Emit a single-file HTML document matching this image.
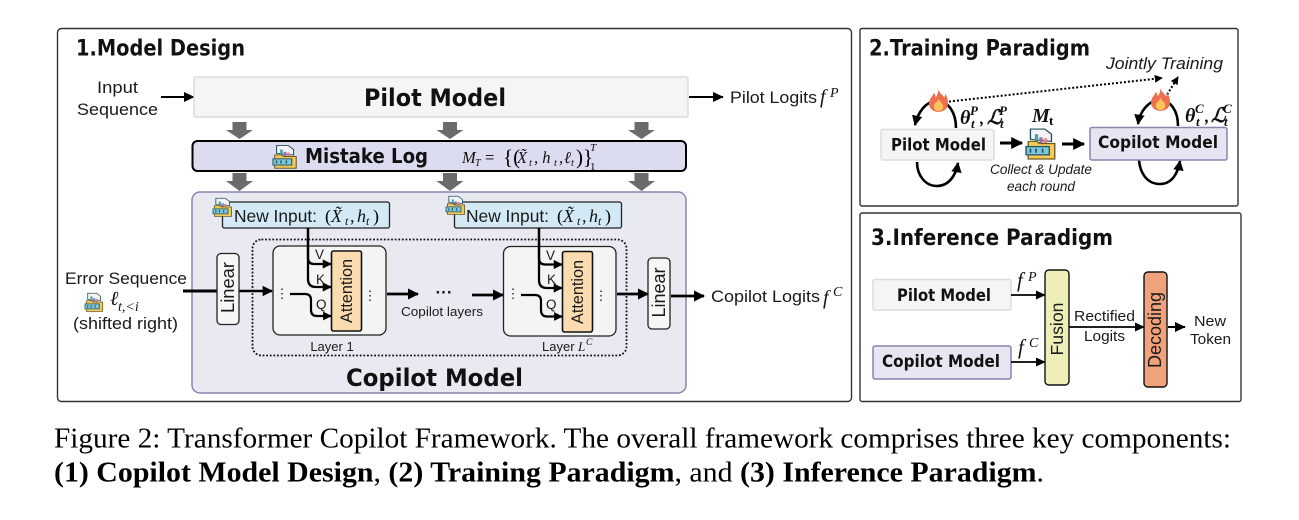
<!DOCTYPE html>
<html><head><meta charset="utf-8"><style>
html,body{margin:0;padding:0;background:#fff;width:1299px;height:520px;overflow:hidden}
svg{display:block}
text{font-family:"Liberation Sans",sans-serif;fill:#1a1a1a}
.h{font-family:"DejaVu Sans",sans-serif;font-weight:bold;fill:#111}
.b{font-family:"DejaVu Sans",sans-serif;font-weight:bold;fill:#111}
.m{font-family:"Liberation Serif",serif;font-style:italic;fill:#111}
.c{font-family:"Liberation Serif",serif;fill:#000}
.l{stroke:#000;fill:none}
</style></head><body>
<svg width="1299" height="520" viewBox="0 0 1299 520" xmlns="http://www.w3.org/2000/svg">
<defs>
<marker id="a" markerWidth="6" markerHeight="6" refX="5" refY="3" orient="auto" markerUnits="strokeWidth"><path d="M0 0.5L5.4 3L0 5.500z" fill="#000"/></marker>
<marker id="t" markerWidth="4" markerHeight="4" refX="3.6" refY="2" orient="auto" markerUnits="strokeWidth"><path d="M0 0L4 2L0 4z" fill="#000"/></marker>
<symbol id="log" viewBox="0 0 28 32" overflow="visible" preserveAspectRatio="none">
<path d="M4 12V2h13l6 5v7z" fill="#f4f4f8" stroke="#27505f" stroke-width="1.200"/>
<rect x="8" y="7" width="3" height="11" fill="#3fa6a0"/><rect x="12" y="10" width="3" height="8" fill="#a06cb0"/><rect x="16" y="11" width="3" height="7" fill="#d88"/>
<path d="M2 14h8l2 2h14v15H2z" fill="#f3c95a" stroke="#6f5a20" stroke-width="1.200"/>
<rect x="0" y="19" width="21" height="8" fill="#7fc6d6" stroke="#1f5566" stroke-width="1.200"/>
<path d="M4 21v4M9 21v4M15 21v4" stroke="#1f5566" stroke-width="1.500"/>
</symbol>
<symbol id="fire" viewBox="0 0 20 24" overflow="visible">
<path d="M10 0C11 5 15 6 16 9C17 7 17 6 17 5C20 9 20 13 20 15C20 21 15 24 10 24C4 24 0 20 0 15C0 10 4 8 5 4C7 6 7 8 7 9C9 6 10 3 10 0z" fill="#ee6f4d"/>
<path d="M10 10C11 13 15 15 15 18C15 21 13 23 10 23C7 23 5 21 5 18C5 15 9 14 10 10z" fill="#fbc35a"/>
</symbol>
</defs>

<!-- Panel 1 -->
<rect x="57.500" y="28.500" width="794" height="373" rx="4" fill="#fff" stroke="#333" stroke-width="1.400"/>
<text class="h" x="76" y="55.500" font-size="22" textLength="169" lengthAdjust="spacingAndGlyphs">1.Model  Design</text>

<text x="97" y="93" font-size="17" textLength="41" lengthAdjust="spacingAndGlyphs">Input</text>
<text x="77" y="115" font-size="17" textLength="81" lengthAdjust="spacingAndGlyphs">Sequence</text>
<line class="l" x1="161" y1="97" x2="194" y2="97" stroke-width="2" marker-end="url(#a)"/>

<rect x="194" y="77" width="494" height="40" rx="2" fill="#f5f5f5" stroke="#dcdcdc" stroke-width="1.500"/>
<text class="b" x="364" y="106" font-size="24" textLength="142" lengthAdjust="spacingAndGlyphs">Pilot Model</text>

<line class="l" x1="689" y1="97" x2="723" y2="97" stroke-width="2" marker-end="url(#a)"/>
<text x="730" y="103" font-size="16.500" textLength="87" lengthAdjust="spacingAndGlyphs">Pilot Logits</text>
<text class="m" x="820" y="103" font-size="20">f</text><text class="m" x="830" y="97" font-size="14">P</text>

<!-- grey arrows -->
<g fill="#6b6b6b">
<path d="M232.500 122h14v8h6.500l-13.500 9l-13.500-9h6.500z"/>
<path d="M443 122h14v8h6.500l-13.500 9l-13.500-9h6.500z"/>
<path d="M634.500 122h14v8h6.500l-13.500 9l-13.500-9h6.500z"/>
<path d="M232.500 173h14v8h6.500l-13.500 10l-13.500-10h6.500z"/>
<path d="M443 173h14v8h6.500l-13.500 10l-13.500-10h6.500z"/>
<path d="M634.500 173h14v8h6.500l-13.500 10l-13.500-10h6.500z"/>
</g>

<rect x="192.500" y="141" width="493.500" height="30" rx="5" fill="#dcdcf1" stroke="#000" stroke-width="2"/>
<use href="#log" x="273" y="144" width="25" height="25"/>
<text class="b" x="305" y="163" font-size="20" textLength="123" lengthAdjust="spacingAndGlyphs">Mistake Log</text>
<text class="m" x="462" y="163" font-size="16.500">M</text><text class="m" x="475" y="166" font-size="10">T</text>
<text class="c" x="485" y="163" font-size="16.500">=</text>
<text class="c" x="503" y="164" font-size="21">{(</text>
<text class="m" x="517" y="163" font-size="16.500">X̃</text><text class="m" x="529" y="166" font-size="10.500">t</text>
<text class="m" x="534" y="163" font-size="16.500">, h</text><text class="m" x="554" y="166" font-size="10.500">t</text>
<text class="m" x="559" y="163" font-size="16.500">,</text><text class="m" x="564" y="163" font-size="16.500">ℓ</text><text class="m" x="571" y="166" font-size="10.500">t</text>
<text class="c" x="576" y="164" font-size="21">)}</text>
<text class="m" x="590" y="151" font-size="11">T</text><text class="c" x="590" y="170" font-size="11">1</text>

<!-- Copilot box -->
<rect x="192" y="192" width="494" height="201" rx="8" fill="#e9e9f2" stroke="#8a84ae" stroke-width="1.500"/>
<rect x="252.500" y="239.500" width="374" height="116" rx="9" fill="none" stroke="#111" stroke-width="1.800" stroke-dasharray="1.800 1.800"/>
<text class="b" x="346" y="386" font-size="24" textLength="177" lengthAdjust="spacingAndGlyphs">Copilot Model</text>

<!-- New input boxes -->
<rect x="222.500" y="202" width="167" height="26" rx="2" fill="#d3e9f5" stroke="#222" stroke-width="1.300"/>
<use href="#log" x="213" y="197" width="20" height="20"/>
<text x="234" y="222" font-size="17.500" textLength="83" lengthAdjust="spacingAndGlyphs">New Input:</text>
<text class="c" x="325" y="222" font-size="18">(</text><text class="m" x="331" y="222" font-size="18">X̃</text><text class="m" x="345" y="225" font-size="12">t</text><text class="m" x="350" y="222" font-size="18">,</text><text class="m" x="357" y="222" font-size="18">h</text><text class="m" x="366" y="225" font-size="12">t</text><text class="c" x="373" y="222" font-size="18">)</text>

<rect x="454.500" y="202" width="167" height="26" rx="2" fill="#d3e9f5" stroke="#222" stroke-width="1.300"/>
<use href="#log" x="446" y="195" width="20" height="20"/>
<text x="466" y="222" font-size="17.500" textLength="83" lengthAdjust="spacingAndGlyphs">New Input:</text>
<text class="c" x="557" y="222" font-size="18">(</text><text class="m" x="563" y="222" font-size="18">X̃</text><text class="m" x="577" y="225" font-size="12">t</text><text class="m" x="582" y="222" font-size="18">,</text><text class="m" x="589" y="222" font-size="18">h</text><text class="m" x="598" y="225" font-size="12">t</text><text class="c" x="605" y="222" font-size="18">)</text>

<!-- Left side -->
<text x="65" y="284" font-size="17" textLength="122" lengthAdjust="spacingAndGlyphs">Error Sequence</text>
<use href="#log" x="85" y="292" width="19" height="20"/>
<text class="m" x="110" y="305" font-size="20">ℓ</text><text class="m" x="118" y="311" font-size="14">t,&lt;i</text>
<text x="73" y="329" font-size="17" textLength="105" lengthAdjust="spacingAndGlyphs">(shifted right)</text>

<line class="l" x1="183" y1="291" x2="218" y2="291" stroke-width="3"/>
<line class="l" x1="239" y1="291" x2="272" y2="291" stroke-width="2.600" marker-end="url(#t)"/>
<rect x="217" y="253.500" width="22" height="71" rx="4" fill="#f6f6f6" stroke="#222" stroke-width="1.300"/>
<text transform="translate(234,287.500) rotate(-90)" font-size="18.500" text-anchor="middle" textLength="51" lengthAdjust="spacingAndGlyphs">Linear</text>

<!-- Layer 1 -->
<rect x="273" y="246" width="113" height="89" rx="7" fill="#f4f4f5" stroke="#222" stroke-width="1.300"/>
<rect x="331.500" y="251" width="30" height="80" rx="2" fill="#fbdcb0" stroke="#111" stroke-width="1.600"/>
<text transform="translate(352,291) rotate(-90)" font-size="17" text-anchor="middle" textLength="64" lengthAdjust="spacingAndGlyphs">Attention</text>
<path class="l" d="M308 228V258Q308 264 314 264H331" stroke-width="2.300" marker-end="url(#t)"/>
<path class="l" d="M308 228V279Q308 287 316 287H331" stroke-width="2.300" marker-end="url(#t)"/>
<path class="l" d="M290 294H305Q311 294 311 300V310Q311 316 317 316H331" stroke-width="2.200" marker-end="url(#t)"/>
<text x="315" y="259" font-size="13.500">V</text><text x="316" y="284" font-size="13.500">K</text><text x="316" y="309" font-size="13.500">Q</text>
<text x="282" y="298" font-size="13" text-anchor="middle">⋮</text><text x="370" y="300" font-size="13" text-anchor="middle">⋮</text>
<text x="332" y="351" font-size="13" text-anchor="middle">Layer 1</text>

<line class="l" x1="387" y1="294" x2="418" y2="294" stroke-width="2.800" marker-end="url(#t)"/>
<text x="444" y="298" font-size="17" text-anchor="middle" font-weight="bold">···</text>
<text x="401" y="316" font-size="13" textLength="82" lengthAdjust="spacingAndGlyphs">Copilot layers</text>
<line class="l" x1="472" y1="295" x2="503" y2="295" stroke-width="2.800" marker-end="url(#t)"/>

<!-- Layer L -->
<rect x="503.500" y="246.500" width="112.500" height="89.500" rx="7" fill="#f4f4f5" stroke="#222" stroke-width="1.300"/>
<rect x="562.500" y="251.500" width="30" height="80.500" rx="2" fill="#fbdcb0" stroke="#111" stroke-width="1.600"/>
<text transform="translate(583,292) rotate(-90)" font-size="17" text-anchor="middle" textLength="64" lengthAdjust="spacingAndGlyphs">Attention</text>
<path class="l" d="M539 228V258Q539 264.500 545 264.500H562" stroke-width="2.300" marker-end="url(#t)"/>
<path class="l" d="M539 228V280Q539 288 547 288H562" stroke-width="2.300" marker-end="url(#t)"/>
<path class="l" d="M521 295H535Q541 295 541 301V310Q541 316.500 547 316.500H562" stroke-width="2.200" marker-end="url(#t)"/>
<text x="546" y="260" font-size="13.500">V</text><text x="547" y="284" font-size="13.500">K</text><text x="546" y="309" font-size="13.500">Q</text>
<text x="513" y="298" font-size="13" text-anchor="middle">⋮</text><text x="601" y="300" font-size="13" text-anchor="middle">⋮</text>
<text x="542" y="351" font-size="13">Layer</text><text class="m" x="578" y="351" font-size="13">L</text><text class="m" x="586" y="345" font-size="9.500">C</text>

<line class="l" x1="617" y1="294" x2="648" y2="294" stroke-width="2.800" marker-end="url(#t)"/>
<rect x="648" y="258" width="22" height="71" rx="4" fill="#f6f6f6" stroke="#222" stroke-width="1.300"/>
<text transform="translate(665,292.500) rotate(-90)" font-size="18.500" text-anchor="middle" textLength="50" lengthAdjust="spacingAndGlyphs">Linear</text>
<line class="l" x1="671" y1="296" x2="704" y2="296" stroke-width="2.800" marker-end="url(#t)"/>
<text x="711" y="302" font-size="16.500" textLength="109" lengthAdjust="spacingAndGlyphs">Copilot Logits</text>
<text class="m" x="823" y="304" font-size="20">f</text><text class="m" x="833" y="296" font-size="14">C</text>

<!-- Panel 2 -->
<rect x="860" y="28.500" width="378" height="177.500" rx="2" fill="#fff" stroke="#333" stroke-width="1.400"/>
<text class="h" x="869" y="55.500" font-size="22" textLength="221" lengthAdjust="spacingAndGlyphs">2.Training  Paradigm</text>
<text x="1106" y="69" font-size="17" font-style="italic" textLength="117" lengthAdjust="spacingAndGlyphs">Jointly Training</text>
<line class="l" x1="945" y1="102" x2="1162" y2="78" stroke-width="2" stroke-dasharray="2 2" marker-end="url(#t)"/>
<line class="l" x1="1165" y1="98" x2="1178" y2="77" stroke-width="2" stroke-dasharray="2 2" marker-end="url(#t)"/>

<path class="l" d="M956 128C956 112 948 101 937 101C926 101 918 112 915 125" stroke-width="2.600" marker-end="url(#t)"/>
<path class="l" d="M917 162C917 175 925 186 937 186C949 186 956 175 958 163" stroke-width="2.600" marker-end="url(#t)"/>
<use href="#fire" x="929" y="89" width="19" height="23"/>
<rect x="881" y="129.500" width="113" height="30.500" rx="2" fill="#f5f5f5" stroke="#dcdcdc" stroke-width="1.500"/>
<text class="b" x="891" y="150.500" font-size="17" textLength="95" lengthAdjust="spacingAndGlyphs">Pilot Model</text>

<text class="m" x="960" y="124" font-size="20" font-weight="bold">θ</text><text class="m" x="970" y="115" font-size="13" font-weight="bold">P</text><text class="m" x="971" y="128" font-size="13" font-weight="bold">t</text>
<text class="m" x="980" y="124" font-size="17" font-weight="bold">,</text>
<text class="m" x="987" y="124" font-size="20" font-weight="bold">ℒ</text><text class="m" x="999" y="115" font-size="13" font-weight="bold">P</text><text class="m" x="1000" y="128" font-size="13" font-weight="bold">t</text>

<text class="m" x="1032" y="122" font-size="20" font-weight="bold">M</text><text class="c" x="1049" y="125" font-size="13" font-weight="bold">t</text>
<use href="#log" x="1026" y="127" width="31" height="33"/>
<line class="l" x1="1000" y1="143" x2="1022" y2="143" stroke-width="3" marker-end="url(#t)"/>
<line class="l" x1="1062" y1="144" x2="1084" y2="144" stroke-width="3" marker-end="url(#t)"/>
<text x="990" y="174" font-size="13.500" font-style="italic" textLength="102" lengthAdjust="spacingAndGlyphs">Collect &amp; Update</text>
<text x="1007" y="191" font-size="13.500" font-style="italic" textLength="68" lengthAdjust="spacingAndGlyphs">each round</text>

<path class="l" d="M1178 126C1178 110 1170 100 1160 100C1149 100 1140 111 1138 124" stroke-width="2.600" marker-end="url(#t)"/>
<path class="l" d="M1139 160C1140 173 1147 184 1160 184C1172 184 1178 173 1180 161" stroke-width="2.600" marker-end="url(#t)"/>
<use href="#fire" x="1151" y="88" width="19" height="23"/>
<rect x="1090" y="127.500" width="137" height="32.500" rx="2" fill="#e6e6f2" stroke="#8a84ae" stroke-width="1.500"/>
<text class="b" x="1098" y="148" font-size="17" textLength="120" lengthAdjust="spacingAndGlyphs">Copilot Model</text>
<text class="m" x="1185" y="122" font-size="20" font-weight="bold">θ</text><text class="m" x="1195" y="113" font-size="13" font-weight="bold">C</text><text class="m" x="1196" y="126" font-size="13" font-weight="bold">t</text>
<text class="m" x="1205" y="122" font-size="17" font-weight="bold">,</text>
<text class="m" x="1211" y="122" font-size="20" font-weight="bold">ℒ</text><text class="m" x="1223" y="113" font-size="13" font-weight="bold">C</text><text class="m" x="1224" y="126" font-size="13" font-weight="bold">t</text>

<!-- Panel 3 -->
<rect x="860" y="213" width="381" height="188.500" rx="2" fill="#fff" stroke="#333" stroke-width="1.400"/>
<text class="h" x="871" y="245" font-size="22" textLength="242" lengthAdjust="spacingAndGlyphs">3.Inference  Paradigm</text>
<rect x="873" y="279.500" width="138" height="30.500" rx="2" fill="#f5f5f5" stroke="#dcdcdc" stroke-width="1.500"/>
<text class="b" x="897" y="301" font-size="17" textLength="94" lengthAdjust="spacingAndGlyphs">Pilot Model</text>
<rect x="873" y="346" width="138" height="33" rx="2" fill="#e6e6f2" stroke="#8a84ae" stroke-width="1.500"/>
<text class="b" x="882" y="367" font-size="17" textLength="118" lengthAdjust="spacingAndGlyphs">Copilot Model</text>
<line class="l" x1="1011" y1="295" x2="1045" y2="295" stroke-width="1.800" marker-end="url(#a)"/>
<line class="l" x1="1011" y1="362" x2="1045" y2="362" stroke-width="1.800" marker-end="url(#a)"/>
<text class="m" x="1017" y="287" font-size="21">f</text><text class="m" x="1028" y="281" font-size="14">P</text>
<text class="m" x="1018" y="354" font-size="21">f</text><text class="m" x="1029" y="347" font-size="14">C</text>
<rect x="1045" y="270" width="24" height="115" rx="4" fill="#eeeeb8" stroke="#111" stroke-width="1.400"/>
<text transform="translate(1063,329) rotate(-90)" font-size="17.500" text-anchor="middle" textLength="53" lengthAdjust="spacingAndGlyphs">Fusion</text>
<line class="l" x1="1069" y1="327" x2="1144" y2="327" stroke-width="1.800" marker-end="url(#a)"/>
<text x="1074" y="321" font-size="15" textLength="61" lengthAdjust="spacingAndGlyphs">Rectified</text>
<text x="1084" y="341" font-size="15" textLength="41" lengthAdjust="spacingAndGlyphs">Logits</text>
<rect x="1144" y="272" width="23" height="115" rx="4" fill="#f0a27c" stroke="#111" stroke-width="1.400"/>
<text transform="translate(1161,330) rotate(-90)" font-size="18" text-anchor="middle" textLength="76" lengthAdjust="spacingAndGlyphs">Decoding</text>
<line class="l" x1="1168" y1="327" x2="1185" y2="327" stroke-width="2" marker-end="url(#a)"/>
<text x="1194" y="326" font-size="15" textLength="32" lengthAdjust="spacingAndGlyphs">New</text>
<text x="1190" y="344" font-size="15" textLength="41" lengthAdjust="spacingAndGlyphs">Token</text>

<!-- Caption -->
<text class="c" x="54" y="447.500" font-size="28" textLength="1177" lengthAdjust="spacingAndGlyphs">Figure 2: Transformer Copilot Framework. The overall framework comprises three key components:</text>
<text class="c" x="54" y="481.500" font-size="28" textLength="990" lengthAdjust="spacingAndGlyphs"><tspan font-weight="bold">(1) Copilot Model Design</tspan>, <tspan font-weight="bold">(2) Training Paradigm</tspan>, and <tspan font-weight="bold">(3) Inference Paradigm</tspan>.</text>
</svg>
</body></html>
